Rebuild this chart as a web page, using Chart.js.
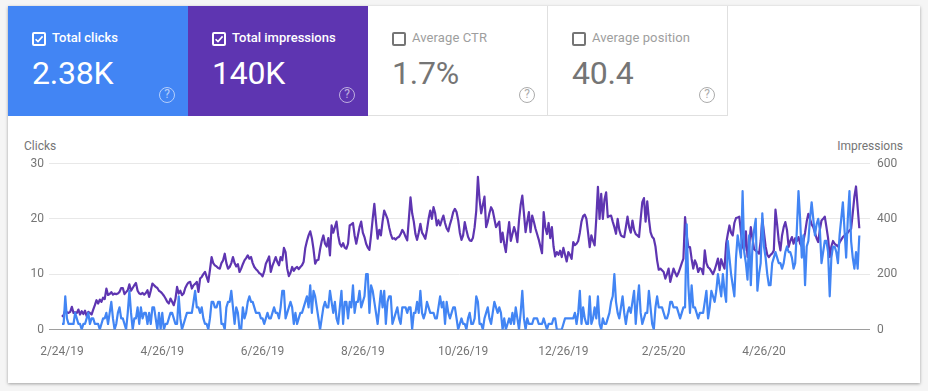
<!DOCTYPE html>
<html>
<head>
<meta charset="utf-8">
<script src="https://cdn.jsdelivr.net/npm/chart.js@4"></script>
<style>
html,body{margin:0;padding:0;width:928px;height:391px;overflow:hidden;background:#f5f5f5;font-family:Roboto,sans-serif;}
#card{position:absolute;left:8px;top:6px;width:912px;height:377px;background:#fff;box-shadow:0 1px 3px rgba(0,0,0,.35);}
.tile{position:absolute;top:6px;width:180px;height:110px;box-sizing:border-box;}
.on{color:#fff;}
.off{color:#757575;background:#fff;border-right:1px solid #e0e0e0;border-bottom:1px solid #e0e0e0;}
.cb{position:absolute;left:24px;top:26px;width:14px;height:14px;box-sizing:border-box;border:2px solid currentColor;border-radius:2px;}
.on .cb{background:transparent;}
.cb svg{position:absolute;left:0;top:0;width:10px;height:10px;}
.lab{position:absolute;left:44px;top:23px;font-size:13px;line-height:18px;white-space:nowrap;}
.on .lab{font-weight:500;}
.off .lab{color:#9e9e9e;letter-spacing:.1px;}
.val{position:absolute;left:24px;top:48px;font-size:32px;line-height:38px;white-space:nowrap;letter-spacing:-.2px;}
.q{position:absolute;left:151px;top:81px;width:16px;height:16px;box-sizing:border-box;border:1.5px solid currentColor;border-radius:50%;font-size:12px;line-height:13px;text-align:center;opacity:.6;}
.title{position:absolute;top:139px;font-size:12px;line-height:14px;color:#757575;}
canvas{position:absolute;left:0;top:0;}
</style>
</head>
<body>
<div id="card"></div>
<div class="tile on" style="left:8px;background:#4285f4"><span class="cb"><svg viewBox="0 0 10 10"><path d="M1.6 5.2 4 7.6 8.6 2.4" fill="none" stroke="#fff" stroke-width="1.6"/></svg></span><span class="lab">Total clicks</span><span class="val">2.38K</span><span class="q">?</span></div>
<div class="tile on" style="left:188px;background:#5e35b1"><span class="cb"><svg viewBox="0 0 10 10"><path d="M1.6 5.2 4 7.6 8.6 2.4" fill="none" stroke="#fff" stroke-width="1.6"/></svg></span><span class="lab">Total impressions</span><span class="val">140K</span><span class="q">?</span></div>
<div class="tile off" style="left:368px"><span class="cb"></span><span class="lab">Average CTR</span><span class="val">1.7%</span><span class="q">?</span></div>
<div class="tile off" style="left:548px;border-left:1px solid #e0e0e0;margin-left:-1px;width:181px"><span class="cb" style="left:24px"></span><span class="lab">Average position</span><span class="val">40.4</span><span class="q">?</span></div>
<div class="title" style="left:24px">Clicks</div>
<div class="title" style="right:25px">Impressions</div>
<canvas id="c" width="928" height="391"></canvas>
<script>
const tickDays=[0,61,122,183,244,305,366,427];
const tickLabels=["2/24/19","4/26/19","6/26/19","8/26/19","10/26/19","12/26/19","2/25/20","4/26/20"];
const clicksTicks=[0,10,20,30];
const impressionsTicks=[0,200,400,600];
const clicks=[
1,1,6,2,1,1,1,1,3,2,
1,1,0,1,1,2,3,1,2,2,
1,1,1,0,1,2,2,3,1,3,
5,2,0,1,3,4,2,2,1,0,
3,7,3,0,2,2,4,1,4,2,
3,3,1,3,1,4,4,2,0,3,
0,3,0,1,1,2,3,3,2,1,
1,6,2,0,1,2,3,3,3,3,
5,7,4,4,3,4,2,1,1,0,
2,5,5,4,4,5,5,1,1,0,
4,5,5,7,4,1,4,3,0,0,
4,2,3,5,6,5,5,4,3,3,
3,2,2,1,2,3,2,2,3,4,
3,3,2,4,7,7,2,3,4,5,
4,1,3,1,2,3,3,4,5,6,
4,8,3,7,6,4,2,0,2,4,
5,4,4,7,5,3,5,2,1,4,
7,1,5,5,2,5,4,8,3,5,
5,7,4,5,6,10,10,3,8,7,
5,3,1,4,7,4,7,1,5,6,
6,1,2,3,4,2,1,4,4,4,
3,4,4,0,3,3,5,3,7,3,
2,3,5,4,3,3,3,2,2,4,
6,4,5,1,5,3,2,3,4,4,
2,0,1,2,1,1,0,2,3,1,
1,2,6,5,1,1,0,2,3,4,
2,1,3,5,4,3,4,3,0,2,
0,1,2,1,3,1,4,2,0,3,
7,2,0,2,1,1,1,2,2,2,
1,1,1,2,1,0,1,1,1,2,
2,0,0,0,0,1,2,2,2,2,
2,2,3,1,3,7,1,4,2,1,
1,6,1,2,4,2,6,1,0,2,
1,1,2,3,5,6,10,5,3,2,
4,6,3,1,3,4,3,5,7,1,
5,8,3,1,2,3,3,7,4,1,
0,4,6,4,4,4,3,2,2,3,
5,5,4,4,4,3,2,3,4,4,
19,8,3,8,4,4,3,2,3,3,
3,5,7,2,4,7,6,5,7,10,
8,6,10,7,5,16,13,10,8,6,
13,17,15,13,25,14,12,9,17,8,
15,18,20,7,10,12,21,15,13,10,
8,8,12,13,14,13,12,12,11,12,
14,15,14,14,13,11,12,18,25,20,
13,17,8,15,16,20,23,20,17,19,
20,18,12,14,16,16,14,6,13,15,
15,14,12,17,20,23,18,13,20,25,
16,13,11,14,11,17];
const impressions=[
46,52,70,62,60,64,82,60,62,60,
72,54,66,56,68,48,64,60,54,72,
88,106,94,108,100,115,110,148,125,128,
135,126,130,128,130,136,150,150,128,135,
142,163,140,150,160,168,140,130,128,132,
126,132,142,118,140,166,160,154,150,140,
136,130,122,112,100,94,112,100,88,110,
154,130,140,124,130,150,162,170,172,148,
160,165,172,136,184,190,200,208,190,172,
215,262,240,232,228,222,220,240,250,274,
240,220,226,240,262,240,228,236,208,220,
236,250,258,268,256,262,240,226,218,212,
204,200,192,210,238,250,264,208,230,245,
262,244,232,262,250,295,280,220,193,205,
226,212,222,226,218,226,232,245,295,320,
340,355,330,290,238,250,252,290,320,340,
310,300,330,268,376,350,370,390,340,310,
300,312,296,292,310,376,380,385,340,310,
340,370,390,350,334,310,296,288,340,400,
454,390,328,360,340,390,430,415,400,370,
345,328,330,325,332,335,345,360,350,335,
322,400,478,420,390,345,324,350,382,350,
340,328,360,400,430,400,442,420,376,395,
376,395,412,385,365,355,380,400,425,436,
425,395,350,324,340,388,360,335,322,320,
332,370,430,552,470,420,450,480,370,390,
420,442,430,400,370,380,390,316,350,310,
280,340,388,320,345,370,350,316,395,450,
484,420,352,390,424,352,412,390,365,345,
325,300,276,424,370,345,385,330,370,300,
264,280,270,285,262,295,270,246,280,270,
255,316,305,310,320,350,390,410,415,400,
350,298,340,320,304,400,516,400,490,400,
470,496,406,410,412,390,370,346,400,360,
340,336,334,370,408,370,350,394,360,345,
340,334,400,460,475,390,463,400,352,335,
328,300,250,216,220,214,208,184,200,220,
172,196,220,205,192,205,222,240,256,406,
340,298,298,255,220,250,235,208,222,218,
200,286,240,225,220,210,200,215,235,256,
215,254,235,220,310,345,376,350,340,385,
403,405,408,350,300,286,355,262,300,370,
330,290,285,280,274,320,400,350,300,270,
262,270,275,286,433,380,320,286,340,370,
388,360,298,320,334,310,330,320,334,310,
300,320,350,390,418,400,380,370,350,330,
316,360,394,400,408,370,330,262,300,320,
310,305,300,315,325,334,340,345,350,358,
364,420,480,517,440,366];
const toPoints=a=>a.map((v,i)=>({x:i,y:v}));
const tickFont={family:"Roboto",size:12};
new Chart(document.getElementById('c'),{
  type:'line',
  data:{datasets:[
    {label:'Clicks',data:toPoints(clicks),yAxisID:'y',borderColor:'#4285f4',borderWidth:2.2,borderJoinStyle:'round',pointRadius:0,tension:0,order:0},
    {label:'Impressions',data:toPoints(impressions),yAxisID:'y2',borderColor:'#5e35b1',borderWidth:2.2,borderJoinStyle:'round',pointRadius:0,tension:0,order:1}
  ]},
  options:{
    responsive:false,animation:false,events:[],
    layout:{padding:{top:163.5,left:0,right:0,bottom:0}},
    plugins:{legend:{display:false},tooltip:{enabled:false}},
    scales:{
      x:{type:'linear',min:-7.9,max:491.5,
        afterBuildTicks:s=>{s.ticks=tickDays.map(v=>({value:v}));},
        afterFit:s=>{s.height=61.5;},
        grid:{display:false,drawTicks:false},border:{display:false},
        ticks:{autoSkip:false,maxRotation:0,padding:15,color:'#757575',font:tickFont,
          callback:v=>tickLabels[tickDays.indexOf(v)]}},
      y:{type:'linear',position:'left',min:0,max:30,
        afterBuildTicks:s=>{s.ticks=clicksTicks.map(v=>({value:v}));},
        afterFit:s=>{s.width=49;},
        grid:{drawTicks:false,color:c=>c.tick&&c.tick.value===0?'#9e9e9e':'#e8e8e8',lineWidth:1},
        border:{display:false},
        ticks:{padding:5,color:'#757575',font:tickFont}},
      y2:{type:'linear',position:'right',min:0,max:600,
        afterBuildTicks:s=>{s.ticks=impressionsTicks.map(v=>({value:v}));},
        afterFit:s=>{s.width=58;},
        grid:{display:false,drawTicks:false},border:{display:false},
        ticks:{padding:7,color:'#757575',font:tickFont}}
    }
  }
});
</script>
</body>
</html>
